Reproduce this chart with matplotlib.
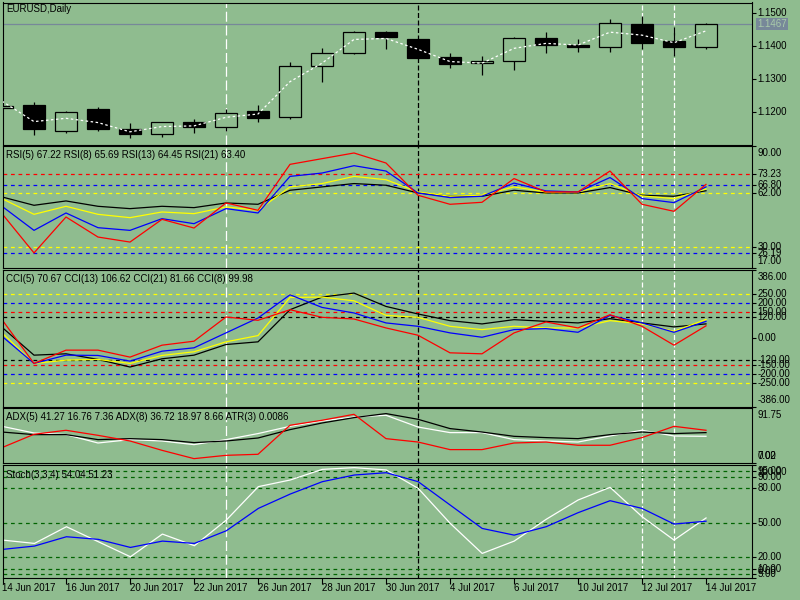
import numpy as np
import matplotlib.pyplot as plt
from matplotlib import transforms

# daily EURUSD bars, 14 Jun 2017 .. 14 Jul 2017
opens = [1.1210, 1.1220, 1.1142, 1.1208, 1.1147, 1.1133, 1.1168, 1.1153, 1.1202, 1.1183, 1.1338, 1.1377,
         1.1441, 1.1419, 1.1365, 1.1347, 1.1353, 1.1422, 1.1403, 1.1397, 1.1466, 1.1414, 1.1397]
highs = [1.1222, 1.1230, 1.1202, 1.1214, 1.1165, 1.1168, 1.1178, 1.1208, 1.1220, 1.1351, 1.1392, 1.1445,
         1.1445, 1.1420, 1.1379, 1.1369, 1.1426, 1.1441, 1.1419, 1.1481, 1.1491, 1.1456, 1.1468]
lows = [1.1205, 1.1129, 1.1136, 1.1142, 1.1119, 1.1124, 1.1136, 1.1142, 1.1170, 1.1178, 1.1291, 1.1374,
        1.1391, 1.1362, 1.1333, 1.1312, 1.1326, 1.1379, 1.1382, 1.1382, 1.1391, 1.1370, 1.1391]
closes = [1.1217, 1.1147, 1.1198, 1.1149, 1.1133, 1.1168, 1.1153, 1.1195, 1.1180, 1.1339, 1.1377, 1.1441,
          1.1426, 1.1364, 1.1344, 1.1353, 1.1422, 1.1401, 1.1397, 1.1468, 1.1409, 1.1397, 1.1467]
ma = [1.1232, 1.1170, 1.1180, 1.1167, 1.1139, 1.1155, 1.1157, 1.1183, 1.1193, 1.1291, 1.1347, 1.1419,
      1.1422, 1.1389, 1.1352, 1.1347, 1.1392, 1.1407, 1.1402, 1.1441, 1.1432, 1.1409, 1.1445]
bid = 1.1467

date_labels = ['14 Jun 2017', '16 Jun 2017', '20 Jun 2017', '22 Jun 2017', '26 Jun 2017', '28 Jun 2017',
               '30 Jun 2017', '4 Jul 2017', '6 Jul 2017', '10 Jul 2017', '12 Jul 2017', '14 Jul 2017']

rsi5 = [49.7, 26.2, 47.7, 35.7, 32.7, 46.3, 41.1, 56.1, 51.7, 79.2, 82.6, 86.0, 80.0, 60.7, 55.3, 56.5,
        70.7, 62.7, 62.7, 75.2, 55.3, 51.1, 67.2]
rsi8 = [54.1, 39.7, 50.1, 41.3, 39.7, 46.7, 43.7, 52.7, 50.1, 72.0, 74.0, 78.4, 75.2, 62.1, 59.3, 60.1,
        68.0, 63.3, 62.7, 71.3, 58.7, 56.3, 65.7]
rsi13 = [58.7, 49.3, 54.1, 49.3, 47.3, 50.7, 49.7, 53.7, 51.7, 65.7, 67.7, 72.0, 70.0, 62.7, 60.1, 60.7,
         65.7, 62.7, 62.7, 67.7, 60.3, 58.7, 64.5]
rsi21 = [59.7, 54.7, 57.3, 54.1, 52.7, 54.1, 53.3, 56.1, 55.3, 63.7, 65.7, 67.7, 66.7, 62.1, 60.1, 60.1,
         63.7, 62.1, 62.1, 65.3, 60.7, 60.1, 63.4]
rsi_levels = [73.23, 66.80, 62.00, 30.00, 26.19]
rsi_level_colors = ['red', 'blue', 'yellow', 'yellow', 'blue']

cci_red = [105.6, -141.6, -66.6, -66.6, -106, -38.6, -16.1, 120.6, 101.9, 161.8, 118.8, 109.3, 58.8,
           17.6, -81.7, -87.3, 30.6, 92.5, 58.8, 133.7, 68, -38.6, 70.7]
cci_blue = [11.8, -141.6, -94.9, -96.6, -128.6, -72.5, -53.4, 30.9, 115, 246, 174.7, 143.3, 87.1,
            68, 30.9, 6.2, 49.4, 55, 34.3, 129.8, 87.1, 34.3, 96]
cci_yellow = [30.9, -141.6, -123, -119, -141.6, -96.6, -75.8, -19.7, 15.7, 231, 233, 212, 129.8,
              118.8, 68, 49.4, 68, 58.8, 58.8, 100, 81.5, 40, 106.6]
cci_black = [62.5, -94.9, -87.3, -119, -162, -115.4, -94.9, -34.9, -19.7, 161.8, 233, 255.6, 180.3,
             137.6, 100, 81.5, 105.6, 96, 87.1, 111.2, 87.1, 64.6, 81.7]
cci_levels = [250, 200, 150, 120, -120, -150, -200, -250]
cci_level_colors = ['yellow', 'blue', 'red', 'black', 'black', 'red', 'blue', 'yellow']

adx_black = [55.2, 51.2, 51.2, 43.5, 45.0, 43.5, 38.9, 41.4, 46.0, 58.9, 69.1, 77.4, 83.6, 74.8, 60.5,
             55.2, 48.6, 46.6, 45.0, 51.2, 55.2, 52.8, 54.3]
adx_white = [64.0, 53.7, 51.2, 38.3, 43.5, 41.4, 35.8, 43.5, 52.8, 64.0, 72.2, 78.4, 81.0, 62.9, 54.3,
             54.3, 43.5, 41.4, 39.8, 49.1, 57.9, 49.1, 48.6]
adx_red = [31.2, 51.7, 57.9, 50.1, 41.4, 27.0, 14.2, 19.3, 20.9, 65.6, 73.3, 82.5, 45.0, 39.8, 28.1,
           28.1, 38.3, 39.8, 34.8, 34.8, 46.6, 64.0, 57.9]

stoch_k = [34.8, 31.9, 46.4, 33.3, 20.3, 40.0, 29.9, 52.2, 81.2, 87.0, 96.2, 97.7, 95.7, 79.7, 49.3,
           23.2, 33.9, 52.8, 69.6, 80.6, 55.1, 34.8, 54.0]
stoch_d = [26.7, 29.6, 37.7, 35.4, 28.4, 33.9, 31.9, 42.9, 62.3, 74.8, 85.5, 91.3, 93.3, 85.5, 65.2,
           44.9, 39.1, 46.4, 58.6, 69.0, 62.3, 48.7, 51.2]
stoch_levels = [95, 90, 80, 50, 20, 10, 5]

BG = '#8fbc8f'
W, H = 800, 600
XMIN, XMAX = 0.0156, 23.447

plt.rcParams['font.family'] = ['Liberation Sans', 'DejaVu Sans']
plt.rcParams['font.size'] = 7

fig = plt.figure(figsize=(8, 6), dpi=100, facecolor=BG)


def panel(y0, y1, ylim):
    ax = fig.add_axes([2.5 / W, 1 - y1 / H, (752.3 - 2.5) / W, (y1 - y0) / H])
    ax.set_facecolor(BG)
    for s in ax.spines.values():
        s.set_color('black')
        s.set_linewidth(0.8)
    ax.set_xlim(XMIN, XMAX)
    ax.set_ylim(*ylim)
    ax.set_xticks([])
    ax.yaxis.tick_right()
    ax.tick_params(axis='y', direction='out', length=3, width=0.8, labelright=False, left=False)
    return ax


def scale_labels(ax, levels, texts):
    ax.set_yticks(levels)
    lo, hi = ax.get_ylim()
    trans = transforms.blended_transform_factory(ax.transAxes, ax.transData)
    for v, t in zip(levels, texts):
        if v >= hi:
            va, dy = 'top', -2
        elif v <= lo:
            va, dy = 'bottom', 2
        else:
            va, dy = 'center', 0
        tr = transforms.offset_copy(trans, fig=fig, x=5, y=dy, units='dots')
        ax.text(1.0, v, t, transform=tr, va=va, ha='left', fontsize=7)


def label(px, py, s):
    fig.text(px / W, 1 - py / H, s, va='center', ha='left', fontsize=7)


x = np.arange(len(opens))
o, c = np.array(opens), np.array(closes)

# price panel
ax0 = panel(2.5, 144.5, (1.11006, 1.15309))
ax0.vlines(x, lows, highs, color='black', lw=0.9, zorder=2)
ax0.bar(x, np.abs(c - o), bottom=np.minimum(o, c), width=0.7,
        color=np.where(c >= o, BG, 'black'), edgecolor='black', lw=0.9, zorder=3)
ax0.plot(x, ma, color='white', lw=0.9, ls=(0, (2, 2)), zorder=4)
ax0.axhline(bid, color='#778899', lw=0.9, zorder=1)
scale_labels(ax0, [1.15, 1.14, 1.13, 1.12], ['1.1500', '1.1400', '1.1300', '1.1200'])
tb = transforms.offset_copy(transforms.blended_transform_factory(ax0.transAxes, ax0.transData),
                            fig=fig, x=5, y=0, units='dots')
ax0.text(1.0, bid, '%.4f' % bid, transform=tb, va='center', ha='left', fontsize=7, color='#a9cba9',
         bbox=dict(facecolor='#778899', edgecolor='none', pad=0.8))
label(6, 9.5, 'EURUSD,Daily')

# RSI
ax1 = panel(146.3, 268.3, (17, 90))
for lv, col in zip(rsi_levels, rsi_level_colors):
    ax1.axhline(lv, color=col, lw=0.9, ls=(0, (3, 3)))
ax1.plot(x, rsi21, color='black', lw=0.9)
ax1.plot(x, rsi13, color='yellow', lw=0.9)
ax1.plot(x, rsi8, color='blue', lw=0.9)
ax1.plot(x, rsi5, color='red', lw=0.9)
scale_labels(ax1, [90] + rsi_levels + [17], ['%.2f' % v for v in [90] + rsi_levels + [17]])
label(6, 155.5, 'RSI(5) 67.22 RSI(8) 65.69 RSI(13) 64.45 RSI(21) 63.40')

# CCI
ax2 = panel(270, 406.7, (-386, 386))
for lv, col in zip(cci_levels, cci_level_colors):
    ax2.axhline(lv, color=col, lw=0.9, ls=(0, (3, 3)))
ax2.plot(x, cci_black, color='black', lw=0.9)
ax2.plot(x, cci_yellow, color='yellow', lw=0.9)
ax2.plot(x, cci_blue, color='blue', lw=0.9)
ax2.plot(x, cci_red, color='red', lw=0.9)
cci_ticks = [386, 250, 200, 150, 120, 0, -120, -150, -200, -250, -386]
scale_labels(ax2, cci_ticks, ['%.2f' % v for v in cci_ticks])
label(6, 279.5, 'CCI(5) 70.67 CCI(13) 106.62 CCI(21) 81.66 CCI(8) 99.98')

# ADX / ATR
ax3 = panel(408.3, 463.3, (7.02, 91.75))
ax3.plot(x, adx_white, color='white', lw=0.9)
ax3.plot(x, adx_black, color='black', lw=0.9)
ax3.plot(x, adx_red, color='red', lw=0.9)
scale_labels(ax3, [91.75, 7.02], ['91.75', '7.02'])
scale_labels(ax3, [7.02], ['0.00'])
label(6, 417, 'ADX(5) 41.27 16.76 7.36 ADX(8) 36.72 18.97 8.66 ATR(3) 0.0086')

# Stochastic
ax4 = panel(465, 578.3, (1.6, 100))
for lv in stoch_levels:
    ax4.axhline(lv, color='#006400', lw=0.9, ls=(0, (3, 3)))
ax4.plot(x, stoch_k, color='white', lw=0.9)
ax4.plot(x, stoch_d, color='blue', lw=0.9)
st_ticks = [100] + stoch_levels + [1.6]
scale_labels(ax4, st_ticks, ['100.00', '95.00', '90.00', '80.00', '50.00', '20.00', '10.00', '5.00', '0.00'])
label(6, 474.5, 'Stoch(3,3,4) 54.04 51.23')
ax4.set_xticks(x[::2])
ax4.tick_params(axis='x', direction='out', length=4, width=0.8, labelbottom=False)
for i, s in zip(x[::2], date_labels):
    label(2 + 32 * i, 588, s)

# vertical separators over all panels
for xi, col, ls in [(7, 'white', (0, (8, 3))), (13, 'black', (0, (4, 2))),
                    (20, 'white', (0, (4, 2))), (21, 'white', (0, (4, 2)))]:
    for ax in (ax0, ax1, ax2, ax3, ax4):
        ax.axvline(xi, color=col, lw=0.9, ls=ls, zorder=1.5)

fig.savefig('out.png', dpi=100, facecolor=BG)
